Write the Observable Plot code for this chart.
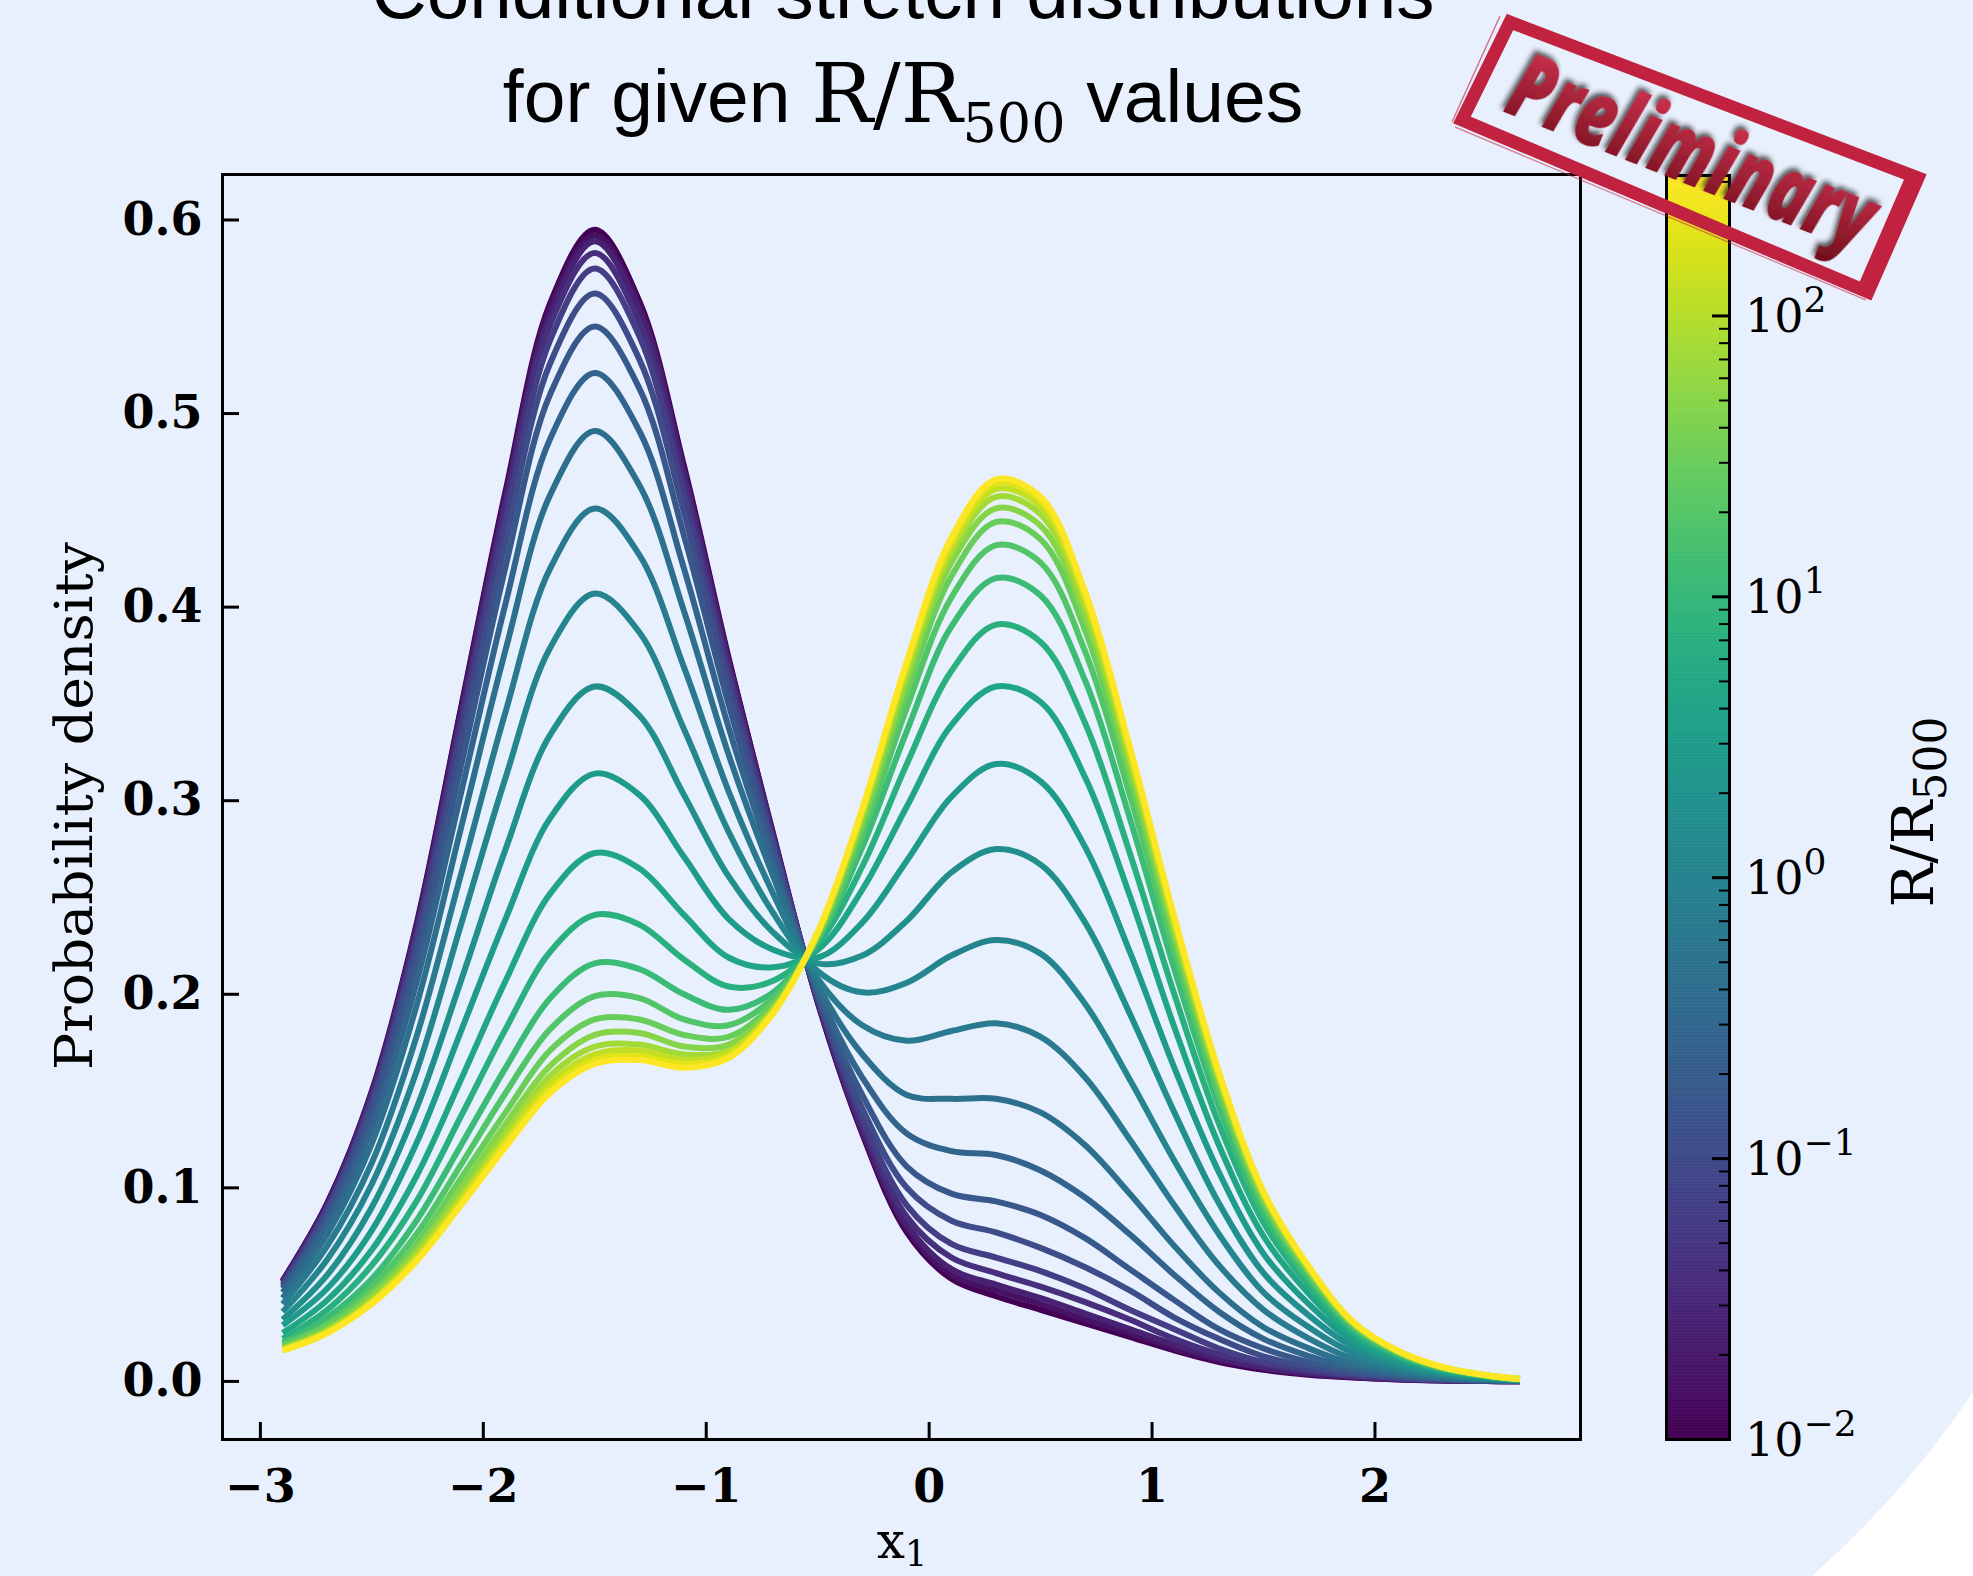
<!DOCTYPE html>
<html>
<head>
<meta charset="utf-8">
<script src="https://cdn.jsdelivr.net/npm/d3@7"></script>
<script src="https://cdn.jsdelivr.net/npm/@observablehq/plot@0.6"></script>
<style>
  html, body { margin: 0; padding: 0; background: #ffffff; }
  #chart { position: relative; width: 1973px; height: 1576px; overflow: hidden; }
  #chart > svg { position: absolute; left: 0; top: 0; }
</style>
</head>
<body>
<div id="chart"></div>
<script>
// Sample positions along x1 shared by every conditional density
const x1 = [-2.9, -2.7, -2.5, -2.3, -2.1, -1.9, -1.7, -1.5, -1.3, -1.1, -0.9, -0.7, -0.5, -0.3, -0.1,
            0.1, 0.3, 0.5, 0.7, 0.9, 1.1, 1.3, 1.5, 1.7, 1.9, 2.1, 2.3, 2.5, 2.65];

// Conditioning radii R/R500 (log-spaced), one curve each
const radii = [0.01, 0.016, 0.0256, 0.041, 0.0657, 0.105, 0.169, 0.27, 0.432, 0.692, 1.11, 1.77,
               2.84, 4.55, 7.28, 11.7, 18.7, 29.9, 47.9, 76.6, 123, 196, 316];

// Probability density of x1 for each radius, sampled at x1
const density = [
  [.052,.092,.150,.236,.348,.460,.557,.595,.558,.473,.374,.283,.196,.128,.077,.053,.044,.037,.030,.023,.016,.010,.006,.0035,.002,.001,.0005,.0002,.0001],
  [.052,.092,.149,.235,.347,.458,.555,.592,.556,.471,.373,.282,.196,.129,.079,.055,.047,.040,.032,.025,.017,.011,.007,.0038,.0022,.0011,.0005,.0002,.0001],
  [.052,.091,.149,.234,.344,.455,.551,.589,.553,.469,.371,.282,.197,.130,.081,.058,.050,.043,.035,.027,.019,.012,.007,.0043,.0024,.0012,.0006,.0002,.0001],
  [.051,.090,.147,.231,.341,.451,.546,.583,.547,.464,.368,.280,.197,.133,.085,.064,.056,.049,.041,.032,.022,.014,.009,.0051,.0028,.0014,.0007,.0003,.0001],
  [.050,.089,.145,.228,.336,.444,.538,.575,.540,.458,.364,.279,.198,.136,.091,.071,.064,.057,.048,.037,.027,.017,.010,.0062,.0034,.0017,.0008,.0003,.0002],
  [.049,.087,.142,.223,.328,.434,.526,.562,.528,.449,.358,.276,.199,.141,.100,.083,.077,.069,.059,.047,.033,.022,.013,.0079,.0042,.0022,.001,.0004,.0002],
  [.048,.084,.137,.216,.318,.421,.510,.545,.513,.437,.350,.272,.200,.148,.111,.097,.093,.086,.074,.058,.042,.027,.017,.0101,.0054,.0027,.0013,.0006,.0002],
  [.046,.081,.131,.206,.304,.402,.487,.521,.491,.420,.338,.267,.202,.157,.128,.119,.117,.109,.095,.076,.055,.036,.022,.0132,.007,.0036,.0017,.0007,.0003],
  [.043,.076,.123,.194,.286,.378,.458,.491,.463,.398,.324,.261,.205,.169,.148,.146,.146,.139,.122,.097,.070,.046,.028,.0172,.009,.0046,.0022,.0009,.0004],
  [.040,.070,.113,.178,.262,.346,.420,.451,.427,.369,.305,.252,.208,.184,.176,.181,.185,.178,.157,.125,.091,.060,.037,.0224,.0117,.006,.0029,.0012,.0005],
  [.036,.063,.102,.160,.236,.312,.379,.407,.387,.337,.284,.242,.212,.201,.206,.220,.228,.221,.195,.156,.114,.076,.046,.0282,.0147,.0076,.0036,.0015,.0006],
  [.032,.055,.090,.141,.207,.275,.334,.359,.344,.303,.261,.232,.216,.220,.238,.263,.275,.267,.237,.190,.139,.092,.056,.0344,.0179,.0092,.0043,.0018,.0007],
  [.029,.048,.078,.123,.181,.239,.291,.314,.303,.271,.239,.223,.219,.237,.269,.302,.319,.310,.276,.222,.162,.108,.066,.0403,.0209,.0108,.0051,.0022,.0008],
  [.025,.042,.068,.106,.156,.207,.252,.273,.265,.241,.219,.214,.223,.254,.297,.339,.359,.351,.312,.251,.183,.122,.075,.0457,.0237,.0122,.0057,.0024,.0009],
  [.022,.037,.060,.093,.137,.182,.222,.241,.236,.218,.204,.207,.226,.266,.319,.367,.391,.382,.340,.273,.200,.133,.082,.0499,.0258,.0133,.0063,.0027,.001],
  [.020,.033,.053,.083,.122,.162,.198,.216,.213,.200,.192,.201,.228,.276,.336,.390,.415,.406,.362,.291,.213,.142,.087,.0532,.0275,.0142,.0067,.0028,.001],
  [.019,.030,.049,.076,.112,.149,.182,.199,.198,.187,.184,.198,.229,.282,.348,.405,.432,.423,.377,.303,.222,.148,.091,.0554,.0287,.0148,.0069,.003,.0011],
  [.018,.029,.046,.071,.105,.139,.171,.187,.187,.179,.178,.195,.230,.287,.356,.416,.444,.435,.388,.312,.228,.152,.093,.057,.0295,.0152,.0071,.003,.0011],
  [.017,.027,.044,.068,.100,.133,.163,.179,.180,.173,.174,.193,.231,.290,.362,.423,.451,.442,.395,.317,.232,.155,.095,.058,.030,.0155,.0073,.0031,.0012],
  [.017,.026,.042,.066,.096,.128,.158,.173,.174,.169,.171,.192,.231,.293,.366,.428,.457,.448,.400,.322,.235,.157,.096,.0588,.0304,.0157,.0074,.0031,.0012],
  [.016,.026,.041,.064,.094,.125,.154,.169,.171,.166,.170,.191,.232,.294,.369,.431,.461,.452,.404,.324,.237,.158,.097,.0593,.0307,.0158,.0074,.0032,.0012],
  [.016,.025,.041,.063,.092,.123,.151,.166,.168,.164,.168,.191,.232,.295,.371,.434,.464,.455,.406,.327,.239,.159,.098,.0597,.0309,.0159,.0075,.0032,.0012],
  [.016,.025,.040,.062,.091,.121,.149,.164,.166,.162,.167,.190,.232,.296,.372,.436,.466,.457,.408,.328,.240,.160,.098,.060,.031,.016,.0075,.0032,.0012]
];

// Axis ticks
const xTicks = [-3, -2, -1, 0, 1, 2];
const yTicks = [0, 0.1, 0.2, 0.3, 0.4, 0.5, 0.6];
const colorMajor = [0.01, 0.1, 1, 10, 100];
const colorExponents = ["\u22122", "\u22121", "0", "1", "2"];
const colorMinor = [0.02,0.03,0.04,0.05,0.06,0.07,0.08,0.09, 0.2,0.3,0.4,0.5,0.6,0.7,0.8,0.9,
                    2,3,4,5,6,7,8,9, 20,30,40,50,60,70,80,90, 200,300];

// Text
const titleLine1 = "Conditional stretch distributions";
const titleLead = "for given ";
const titleTail = " values";
const stampText = "Preliminary";

const W = 1973, H = 1576;
const frame = {left: 222, right: 1580, top: 174, bottom: 1439};
const serif = "DejaVu Serif";
const sans = "Liberation Sans";
const paper = "#e9f0fd";

const colorScale = {type: "log", scheme: "viridis", domain: [0.01, Math.pow(10, 2.5)]};

const rows = radii.flatMap((r, i) => x1.map((x, j) => ({r, x, y: density[i][j]})));

const chart = d3.select("#chart");

// Paper background with the rounded lower-right cut
const bg = chart.append("svg").attr("width", W).attr("height", H);
bg.append("path")
  .attr("d", `M0,0H${W}V1392A966,966 0 0 1 1812,${H}H0Z`)
  .attr("fill", paper);

// Main panel
const main = Plot.plot({
  width: W,
  height: H,
  marginLeft: frame.left,
  marginRight: W - frame.right,
  marginTop: frame.top,
  marginBottom: H - frame.bottom,
  style: {background: "transparent", overflow: "visible", fontFamily: serif, color: "black"},
  x: {domain: [-3.17, 2.922]},
  y: {domain: [-0.03, 0.6235]},
  color: colorScale,
  marks: [
    Plot.line(rows, {
      x: "x", y: "y", z: "r", stroke: "r",
      strokeWidth: 6, curve: "catmull-rom",
      strokeLinecap: "butt", strokeLinejoin: "round"
    }),
    Plot.frame({stroke: "black", strokeWidth: 3}),
    // inward ticks
    Plot.tickY(yTicks, {y: d => d, stroke: "black", strokeWidth: 3,
      insetRight: (frame.right - frame.left) - 17}),
    Plot.tickX(xTicks, {x: d => d, stroke: "black", strokeWidth: 3,
      insetTop: (frame.bottom - frame.top) - 17}),
    Plot.axisY({ticks: yTicks, tickSize: 0, tickPadding: 20, label: null,
      tickFormat: d => d.toFixed(1),
      fontSize: 46, fontWeight: "bold", fontFamily: serif}),
    Plot.axisX({ticks: xTicks, tickSize: 0, tickPadding: 30, label: null,
      tickFormat: d => (d < 0 ? "\u2212" : "") + Math.abs(d),
      fontSize: 46, fontWeight: "bold", fontFamily: serif})
  ]
});
chart.node().appendChild(main);

const ms = d3.select(main);

// Title
ms.append("text")
  .attr("x", 903).attr("y", 18)
  .attr("text-anchor", "middle")
  .attr("font-family", sans).attr("font-size", 76.5)
  .attr("fill", "black")
  .text(titleLine1);

const t2 = ms.append("text")
  .attr("x", 903).attr("y", 122)
  .attr("text-anchor", "middle")
  .attr("font-family", sans).attr("font-size", 75)
  .attr("fill", "black");
t2.append("tspan").text(titleLead);
t2.append("tspan").attr("font-family", serif).attr("font-size", 82).text("R/R");
t2.append("tspan").attr("font-family", serif).attr("font-size", 54).attr("dy", 20).text("500");
t2.append("tspan").attr("dy", -20).text(titleTail);

// Axis titles
ms.append("text")
  .attr("transform", "translate(92,806) rotate(-90)")
  .attr("text-anchor", "middle")
  .attr("font-family", serif).attr("font-size", 52)
  .attr("textLength", 528).attr("lengthAdjust", "spacingAndGlyphs")
  .attr("fill", "black")
  .text("Probability density");

const xl = ms.append("text")
  .attr("x", 902).attr("y", 1558)
  .attr("text-anchor", "middle")
  .attr("font-family", serif).attr("font-size", 50)
  .attr("fill", "black");
xl.append("tspan").text("x");
xl.append("tspan").attr("font-size", 35).attr("dy", 8).text("1");

// Colour bar
const barBox = {x: 1600, w: 373, left: 1666, right: 1729, top: 175, bottom: frame.bottom};
const steps = 450;
const stripes = d3.range(steps).map(k => {
  const lo = -2 + 4.5 * k / steps, hi = -2 + 4.5 * (k + 1) / steps;
  return {lo: Math.pow(10, lo), hi: Math.pow(10, hi), mid: Math.pow(10, (lo + hi) / 2)};
});

const bar = Plot.plot({
  width: barBox.w,
  height: H,
  marginLeft: barBox.left - barBox.x,
  marginRight: barBox.x + barBox.w - barBox.right,
  marginTop: barBox.top,
  marginBottom: H - barBox.bottom,
  style: {background: "transparent", overflow: "visible", fontFamily: serif},
  x: {domain: [0, 1], axis: null},
  y: {type: "log", domain: colorScale.domain, axis: null},
  color: colorScale,
  marks: [
    Plot.rect(stripes, {x1: 0, x2: 1, y1: "lo", y2: "hi", fill: "mid", stroke: "mid", strokeWidth: 0.6}),
    Plot.frame({stroke: "black", strokeWidth: 3}),
    Plot.tickY(colorMajor, {y: d => d, stroke: "black", strokeWidth: 3,
      insetLeft: (barBox.right - barBox.left) - 17}),
    Plot.tickY(colorMinor, {y: d => d, stroke: "black", strokeWidth: 2,
      insetLeft: (barBox.right - barBox.left) - 10})
  ]
});
bar.style.left = barBox.x + "px";
chart.node().appendChild(bar);

const bs = d3.select(bar);
const yBar = bar.scale("y");
colorMajor.forEach((v, i) => {
  const t = bs.append("text")
    .attr("x", barBox.right - barBox.x + 16)
    .attr("y", yBar.apply(v))
    .attr("dy", "0.36em")
    .attr("text-anchor", "start")
    .attr("font-family", serif).attr("font-size", 46)
    .attr("fill", "black");
  t.append("tspan").text("10");
  t.append("tspan").attr("font-size", 36).attr("dy", -20).text(colorExponents[i]);
});

const cl = bs.append("text")
  .attr("transform", `translate(${1933 - barBox.x},812) rotate(-90)`)
  .attr("text-anchor", "middle")
  .attr("font-family", serif).attr("font-size", 58)
  .attr("fill", "black");
cl.append("tspan").text("R/R");
cl.append("tspan").attr("font-size", 44).attr("dy", 13).text("500");

// "Preliminary" stamp on top of everything
const ov = chart.append("svg").attr("width", W).attr("height", H).style("pointer-events", "none");
const defs = ov.append("defs");
const grad = defs.append("linearGradient").attr("id", "inkGrad")
  .attr("x1", 0).attr("y1", 0).attr("x2", 0).attr("y2", 1);
grad.append("stop").attr("offset", "0%").attr("stop-color", "#e2395a");
grad.append("stop").attr("offset", "100%").attr("stop-color", "#6c0d19");
const shadow = defs.append("filter").attr("id", "inkShadow")
  .attr("x", "-10%").attr("y", "-40%").attr("width", "120%").attr("height", "180%");
shadow.append("feDropShadow").attr("dx", -3).attr("dy", -3).attr("stdDeviation", 2.5)
  .attr("flood-color", "#1e1e1e").attr("flood-opacity", 0.75);

const ink = "#c1223f";
ov.append("polygon")
  .attr("points", "1510,22 1918,178 1868,292 1462,120")
  .attr("fill", "none").attr("stroke", ink).attr("stroke-width", 13)
  .attr("stroke-linejoin", "miter");
ov.append("line")
  .attr("x1", 1911).attr("y1", 176).attr("x2", 1862).attr("y2", 289)
  .attr("stroke", ink).attr("stroke-width", 10);
ov.append("line")
  .attr("x1", 1452).attr("y1", 122).attr("x2", 1500).attr("y2", 16)
  .attr("stroke", ink).attr("stroke-width", 1.5).attr("opacity", 0.6);
ov.append("line")
  .attr("x1", 1455).attr("y1", 127).attr("x2", 1866).attr("y2", 300)
  .attr("stroke", ink).attr("stroke-width", 1.5).attr("opacity", 0.5);

ov.append("text")
  .attr("transform", "translate(1681,182) rotate(21.6)")
  .attr("text-anchor", "middle")
  .attr("font-family", "Open Sans").attr("font-weight", 800).attr("font-style", "italic")
  .attr("font-size", 92)
  .attr("textLength", 385).attr("lengthAdjust", "spacingAndGlyphs")
  .attr("fill", "url(#inkGrad)").attr("filter", "url(#inkShadow)")
  .text(stampText);
</script>
</body>
</html>
